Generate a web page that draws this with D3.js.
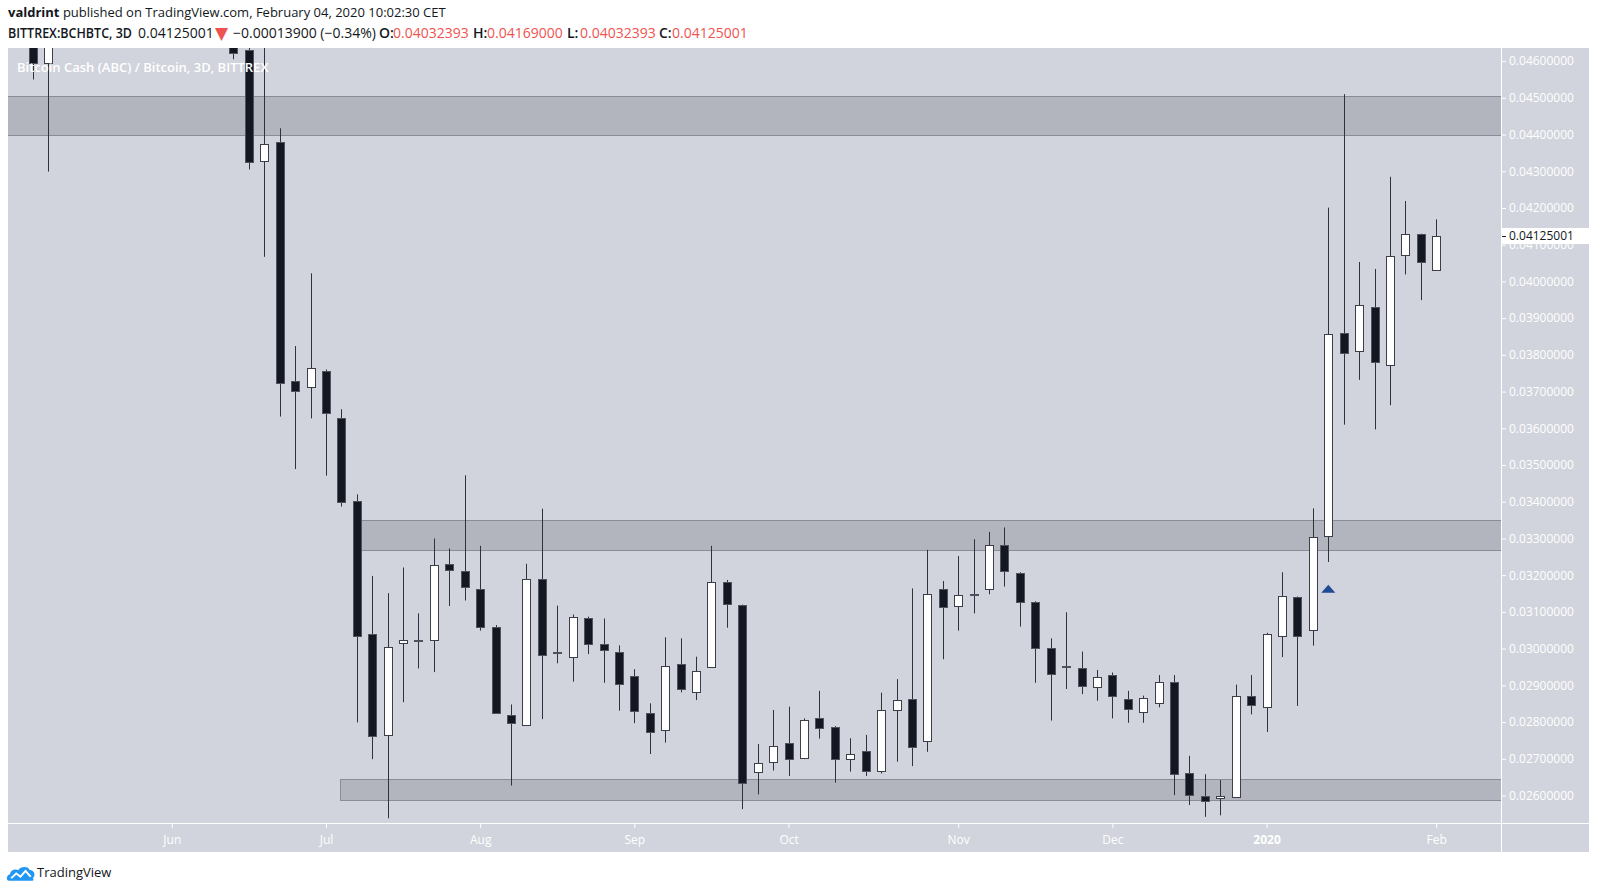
<!DOCTYPE html>
<html>
<head>
<meta charset="utf-8">
<script src="https://cdn.jsdelivr.net/npm/d3@7"></script>
<style>
  body { margin: 0; background: #fff; overflow: hidden; }
  text { font-family: "Open Sans", sans-serif; }
</style>
</head>
<body>
<svg id="mainSvg"></svg>
<script>
// 3D candles, index 0 = first bar at the left edge; null = bar above the visible range
const opens = [0.0472, 0.04596, null, null, null, null, null, null, null, null, null, null, null,
  0.0466, 0.0463, 0.04329, 0.04381, 0.03730, 0.03712, 0.03757, 0.03629, 0.03403, 0.03039,
  0.02765, 0.03015, 0.03024, 0.03024, 0.03230, 0.03212, 0.03162, 0.03060, 0.02820, 0.02792,
  0.03189, 0.02990, 0.02978, 0.03084, 0.03012, 0.02990, 0.02925, 0.02826, 0.02778, 0.02958,
  0.02883, 0.02951, 0.03182, 0.03119, 0.02663, 0.02690, 0.02742, 0.02701, 0.02810, 0.02787,
  0.02699, 0.02722, 0.02667, 0.02833, 0.02862, 0.02748, 0.03162, 0.03116, 0.03149, 0.03163,
  0.03281, 0.03207, 0.03128, 0.03003, 0.02952, 0.02948, 0.02895, 0.02928, 0.02862, 0.02828,
  0.02853, 0.02910, 0.02662, 0.02600, 0.02593, 0.02597, 0.02872, 0.02842, 0.03034, 0.03140,
  0.03050, 0.03307, 0.03860, 0.03811, 0.03931, 0.03773, 0.04073, 0.04128, 0.04032393];
const highs = [0.0478, 0.0475, null, null, null, null, null, null, null, null, null, null, null,
  0.0470, 0.0466, 0.0468, 0.04417, 0.03824, 0.04022, 0.03760, 0.03652, 0.03420, 0.03198,
  0.03151, 0.03221, 0.03096, 0.03300, 0.03273, 0.03472, 0.03280, 0.03064, 0.02848, 0.03231,
  0.03381, 0.03117, 0.03093, 0.03087, 0.03082, 0.03009, 0.02944, 0.02851, 0.03031, 0.03028,
  0.02978, 0.03280, 0.03187, 0.03120, 0.02740, 0.02833, 0.02842, 0.02810, 0.02885, 0.02789,
  0.02756, 0.02765, 0.02880, 0.02917, 0.03164, 0.03269, 0.03184, 0.03252, 0.03298, 0.03318,
  0.03330, 0.03208, 0.03129, 0.03028, 0.03099, 0.02992, 0.02942, 0.02935, 0.02885, 0.02872,
  0.02928, 0.02928, 0.02708, 0.02658, 0.02642, 0.02902, 0.02928, 0.03043, 0.03208, 0.03142,
  0.03382, 0.04201, 0.04510, 0.04053, 0.04034, 0.04285, 0.04219, 0.04130, 0.04169000];
const lows = [0.04550, 0.04299, null, null, null, null, null, null, null, null, null, null, null,
  0.04605, 0.04305, 0.04067, 0.03632, 0.03489, 0.03627, 0.03471, 0.03387, 0.02799, 0.02699,
  0.02538, 0.02854, 0.02946, 0.02936, 0.03116, 0.03131, 0.03049, 0.02825, 0.02627, 0.02789,
  0.02808, 0.02960, 0.02910, 0.02985, 0.02907, 0.02831, 0.02797, 0.02713, 0.02744, 0.02881,
  0.02860, 0.02948, 0.03057, 0.02563, 0.02603, 0.02668, 0.02653, 0.02699, 0.02755, 0.02635,
  0.02665, 0.02653, 0.02660, 0.02692, 0.02680, 0.02719, 0.02971, 0.03049, 0.03096, 0.03148,
  0.03169, 0.03060, 0.02907, 0.02804, 0.02890, 0.02876, 0.02858, 0.02810, 0.02798, 0.02798,
  0.02840, 0.02601, 0.02574, 0.02542, 0.02546, 0.02596, 0.02821, 0.02773, 0.02977, 0.02844,
  0.03008, 0.03236, 0.03610, 0.03732, 0.03597, 0.03663, 0.04019, 0.03949, 0.04032393];
const closes = [0.04594, 0.0468, null, null, null, null, null, null, null, null, null, null, null,
  0.04623, 0.04326, 0.04374, 0.03723, 0.03702, 0.03763, 0.03643, 0.03400, 0.03035, 0.02762,
  0.03005, 0.03024, 0.03022, 0.03227, 0.03214, 0.03167, 0.03060, 0.02826, 0.02798, 0.03189,
  0.02983, 0.02988, 0.03087, 0.03012, 0.02996, 0.02903, 0.02831, 0.02774, 0.02954, 0.02890,
  0.02940, 0.03182, 0.03122, 0.02633, 0.02688, 0.02736, 0.02699, 0.02806, 0.02783, 0.02699,
  0.02712, 0.02667, 0.02832, 0.02859, 0.02731, 0.03150, 0.03113, 0.03146, 0.03147, 0.03281,
  0.03212, 0.03128, 0.03003, 0.02931, 0.02950, 0.02898, 0.02924, 0.02871, 0.02835, 0.02865,
  0.02910, 0.02658, 0.02601, 0.02584, 0.02600, 0.02872, 0.02847, 0.03040, 0.03143, 0.03034,
  0.03305, 0.03858, 0.03805, 0.03935, 0.03781, 0.04070, 0.04128, 0.04053, 0.04125001];

// month labels sit on the first bar of each month
const monthLabels = ["Jun", "Jul", "Aug", "Sep", "Oct", "Nov", "Dec", "2020", "Feb"];
const monthBars = [9, 19, 29, 39, 49, 60, 70, 80, 91];

const priceTicks = [0.026, 0.027, 0.028, 0.029, 0.030, 0.031, 0.032, 0.033, 0.034, 0.035, 0.036,
  0.037, 0.038, 0.039, 0.040, 0.041, 0.042, 0.043, 0.044, 0.045, 0.046];

// support / resistance boxes: first bar (null = from the left edge), top, bottom
const zoneStart = [null, 21.3, 19.9];
const zoneTop = [0.04506, 0.03349, 0.02644];
const zoneBottom = [0.04400, 0.03269, 0.02589];

const lastPrice = 0.04125001;
const markerBar = 84;
const markerPrice = 0.03163;

const width = 1597;
const height = 894;
const chartLeft = 8, chartRight = 1589, chartTop = 48, chartBottom = 852;
const plotRight = 1501, plotBottom = 823;
const bg = "#d1d4dc";
const red = "#ef5350";

const svg = d3.select("#mainSvg")
  .attr("width", width)
  .attr("height", height);

// header
const head1 = svg.append("text")
  .attr("x", 8)
  .attr("y", 17)
  .style("font-size", "13px")
  .attr("fill", "#131722");
head1.append("tspan").style("font-weight", "bold").text("valdrint");
head1.append("tspan").text(" published on TradingView.com, February 04, 2020 10:02:30 CET");

svg.append("text")
  .attr("x", 8)
  .attr("y", 37.5)
  .attr("textLength", 124)
  .attr("lengthAdjust", "spacingAndGlyphs")
  .style("font-size", "13.5px")
  .style("font-weight", "600")
  .attr("fill", "#131722")
  .text("BITTREX:BCHBTC, 3D");

const head2 = svg.append("text")
  .attr("x", 138)
  .attr("y", 37.5)
  .style("font-size", "14px")
  .attr("fill", "#131722");
head2.append("tspan").text("0.04125001");
head2.append("tspan").attr("x", 215).attr("y", 38.5).attr("fill", red)
  .style("font-size", "17px").style("font-family", "'DejaVu Sans', sans-serif").text("\u25BC");
head2.append("tspan").attr("x", 233).attr("y", 37.5).text("\u22120.00013900 (\u22120.34%)");
const ohlc = [["O:", "0.04032393", 379, 393], ["H:", "0.04169000", 473, 487],
  ["L:", "0.04032393", 567, 580], ["C:", "0.04125001", 659, 672]];
ohlc.forEach(p => {
  head2.append("tspan").attr("x", p[2]).style("font-weight", "600").text(p[0]);
  head2.append("tspan").attr("x", p[3]).attr("fill", red).text(p[1]);
});

// chart background
svg.append("rect")
  .attr("x", chartLeft)
  .attr("y", chartTop)
  .attr("width", chartRight - chartLeft)
  .attr("height", chartBottom - chartTop)
  .attr("fill", bg);

svg.append("clipPath")
  .attr("id", "plotClip")
  .append("rect")
  .attr("x", chartLeft)
  .attr("y", chartTop)
  .attr("width", plotRight - chartLeft)
  .attr("height", plotBottom - chartTop);

const xScale = d3.scaleLinear()
  .domain([0, 91])
  .range([33, 1436.2]);

const yScale = d3.scaleLinear()
  .domain([0.026, 0.046])
  .range([795.5, 61.1]);

const plot = svg.append("g").attr("clip-path", "url(#plotClip)");

// zones
plot.append("g")
  .selectAll("rect")
  .data(zoneTop.map((t, i) => ({ start: zoneStart[i], top: t, bottom: zoneBottom[i] })))
  .enter()
  .append("rect")
  .attr("x", d => d.start === null ? chartLeft - 2 : Math.round(xScale(d.start)) + 0.5)
  .attr("y", d => Math.round(yScale(d.top)) + 0.5)
  .attr("width", d => plotRight + 2 - (d.start === null ? chartLeft - 2 : Math.round(xScale(d.start))))
  .attr("height", d => Math.round(yScale(d.bottom)) - Math.round(yScale(d.top)))
  .attr("fill", "#b2b5be")
  .attr("stroke", "#8a8d96")
  .attr("stroke-width", 1);

const candles = d3.range(opens.length)
  .filter(i => opens[i] !== null)
  .map(i => ({ i: i, o: opens[i], h: highs[i], l: lows[i], c: closes[i] }));

const bodyW = 9;

plot.append("g")
  .selectAll("line")
  .data(candles)
  .enter()
  .append("line")
  .attr("x1", d => Math.round(xScale(d.i)) + 0.5)
  .attr("x2", d => Math.round(xScale(d.i)) + 0.5)
  .attr("y1", d => yScale(d.h))
  .attr("y2", d => yScale(d.l))
  .attr("stroke", "#2f323c")
  .attr("stroke-width", 1);

plot.append("g")
  .selectAll("rect")
  .data(candles)
  .enter()
  .append("rect")
  .attr("x", d => Math.round(xScale(d.i)) - (bodyW - 1) / 2 + 0.5)
  .attr("y", d => Math.round(yScale(Math.max(d.o, d.c))) + 0.5)
  .attr("width", bodyW - 1)
  .attr("height", d => Math.max(1, Math.round(yScale(Math.min(d.o, d.c))) - Math.round(yScale(Math.max(d.o, d.c)))))
  .attr("fill", d => d.c >= d.o ? "#ffffff" : "#131722")
  .attr("stroke", d => d.c >= d.o ? "#3c3f49" : "#50535e")
  .attr("stroke-width", 1);

// entry marker
plot.append("path")
  .attr("d", () => {
    const mx = xScale(markerBar), my = yScale(markerPrice);
    return `M${mx - 7},${my + 4} L${mx},${my - 4} L${mx + 7},${my + 4} Z`;
  })
  .attr("fill", "#1f4a94");

// symbol title
svg.append("text")
  .attr("x", 17)
  .attr("y", 72)
  .style("font-size", "13px")
  .style("font-weight", "600")
  .attr("fill", "#ffffff")
  .text("Bitcoin Cash (ABC) / Bitcoin, 3D, BITTREX");

// separators
svg.append("line")
  .attr("x1", plotRight + 0.5).attr("x2", plotRight + 0.5)
  .attr("y1", chartTop).attr("y2", chartBottom)
  .attr("stroke", "#ffffff");
svg.append("line")
  .attr("x1", chartLeft).attr("x2", chartRight)
  .attr("y1", plotBottom + 0.5).attr("y2", plotBottom + 0.5)
  .attr("stroke", "#ffffff");

// price axis
const yAxis = svg.append("g")
  .attr("transform", `translate(${plotRight + 1},0)`)
  .call(d3.axisRight(yScale)
    .tickValues(priceTicks)
    .tickFormat(d3.format(".8f"))
    .tickSize(4)
    .tickPadding(3));
yAxis.select(".domain").remove();
yAxis.selectAll("line").attr("stroke", "#ffffff");
yAxis.selectAll("text")
  .attr("fill", "#ffffff")
  .style("font-size", "12px")
  .style("font-family", "'Open Sans', sans-serif");

// time axis
const xAxis = svg.append("g")
  .attr("transform", `translate(0,${plotBottom + 1})`)
  .call(d3.axisBottom(xScale)
    .tickValues(monthBars)
    .tickFormat((d, i) => monthLabels[i])
    .tickSize(4)
    .tickPadding(7));
xAxis.select(".domain").remove();
xAxis.selectAll("line").attr("stroke", "#ffffff");
xAxis.selectAll("text")
  .attr("fill", "#ffffff")
  .style("font-size", "12px")
  .style("font-family", "'Open Sans', sans-serif")
  .style("font-weight", d => d === 80 ? "bold" : "normal");

// last price label
const lastY = Math.round(yScale(lastPrice));
svg.append("rect")
  .attr("x", plotRight + 1)
  .attr("y", lastY - 8)
  .attr("width", chartRight - plotRight - 1)
  .attr("height", 16)
  .attr("fill", "#ffffff");
svg.append("line")
  .attr("x1", plotRight + 1).attr("x2", plotRight + 5)
  .attr("y1", lastY + 0.5).attr("y2", lastY + 0.5)
  .attr("stroke", "#131722");
svg.append("text")
  .attr("x", plotRight + 8)
  .attr("y", lastY)
  .attr("dy", "0.35em")
  .style("font-size", "12px")
  .attr("fill", "#131722")
  .text(d3.format(".8f")(lastPrice));

// TradingView logo
const logo = svg.append("g").attr("transform", "translate(7,866) scale(1.03,0.82)");
logo.append("path")
  .attr("d", "M2,18 C-1,18 -1,11 3,10 C3,5 8,3 11,5 C13,0 21,0 22,5 C27,5 28,12 25,15 C27,18 25,18 23,18 Z")
  .attr("fill", "#2196f3");
logo.append("path")
  .attr("d", "M4,15 L9,9 L13,13 L18,6 L23,13")
  .attr("fill", "none")
  .attr("stroke", "#ffffff")
  .attr("stroke-width", 2);
svg.append("text")
  .attr("x", 37)
  .attr("y", 876.5)
  .style("font-size", "13px")
  .attr("fill", "#131722")
  .text("TradingView");
</script>
</body>
</html>
